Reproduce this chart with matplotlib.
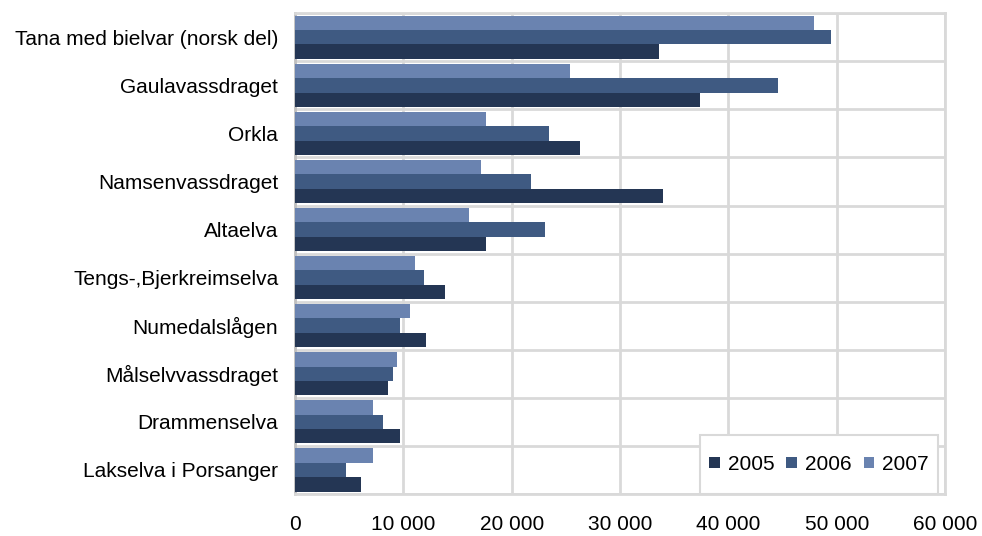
import matplotlib
matplotlib.use("Agg")
import matplotlib.pyplot as plt
from matplotlib.ticker import FuncFormatter
from matplotlib.patches import Rectangle
import numpy as np

categories = ["Tana med bielvar (norsk del)", "Gaulavassdraget", "Orkla", "Namsenvassdraget",
              "Altaelva", "Tengs-,Bjerkreimselva", "Numedalslågen", "Målselvvassdraget",
              "Drammenselva", "Lakselva i Porsanger"]
years = ["2005", "2006", "2007"]
v2005 = [33600, 37400, 26300, 34000, 17600, 13800, 12100, 8600, 9700, 6100]
v2006 = [49500, 44600, 23400, 21800, 23100, 11900, 9700, 9000, 8100, 4700]
v2007 = [47900, 25400, 17600, 17200, 16100, 11050, 10650, 9400, 7200, 7200]
xticks = [0, 10000, 20000, 30000, 40000, 50000, 60000]

colors = ["#243654", "#3F5A82", "#6A83B0"]

plt.rcParams['font.family'] = ['Liberation Sans', 'DejaVu Sans']

fig = plt.figure(figsize=(9.82, 5.36), dpi=100)
ax = fig.add_axes([0.3004, 0.0784, 0.662, 0.897])

n = len(categories)
pos = np.arange(n)
bw = 0.3
series = [v2005, v2006, v2007]
for i, (vals, c, yr) in enumerate(zip(series, colors, years)):
    offs = (1 - i) * bw
    ax.barh(pos + offs, vals, height=bw, color=c, label=yr, zorder=3, linewidth=0)

ax.set_ylim(n - 0.5, -0.5)
ax.set_xlim(0, 60000)
ax.set_xticks(xticks)
ax.xaxis.set_major_formatter(FuncFormatter(lambda v, p: f"{int(v):,}".replace(",", " ")))
ax.set_yticks(pos)
ax.set_yticklabels(categories)
ax.set_yticks(np.arange(n + 1) - 0.5, minor=True)
ax.tick_params(axis='both', which='both', length=0)
ax.tick_params(axis='y', pad=12, labelsize=15)
ax.tick_params(axis='x', pad=15, labelsize=15)
ax.grid(True, axis='x', which='major', color='#D9D9D9', linewidth=2, zorder=0)
ax.grid(True, axis='y', which='minor', color='#D9D9D9', linewidth=2, zorder=0)
for s in ['top', 'right', 'bottom']:
    ax.spines[s].set_color('#D9D9D9')
    ax.spines[s].set_linewidth(2)
ax.spines['left'].set_color('#BFBFBF')
ax.spines['left'].set_linewidth(2)

# legend frame box (Excel style), legend entries centred inside it
x0, x1, y0, y1 = 0.623, 0.989, 0.0, 0.123
ax.add_patch(Rectangle((x0, y0), x1 - x0, y1 - y0, transform=ax.transAxes,
                       facecolor='white', edgecolor='#D9D9D9', linewidth=1.5,
                       zorder=5, clip_on=False))
leg = ax.legend(loc='center', bbox_to_anchor=((x0 + x1) / 2, (y0 + y1) / 2), ncol=3,
                fontsize=15, frameon=False,
                handlelength=0.5, handleheight=0.5, handletextpad=0.38, columnspacing=0.58,
                borderpad=0.0, borderaxespad=0.0)
leg.set_zorder(6)

fig.savefig("out.png", dpi=100)
